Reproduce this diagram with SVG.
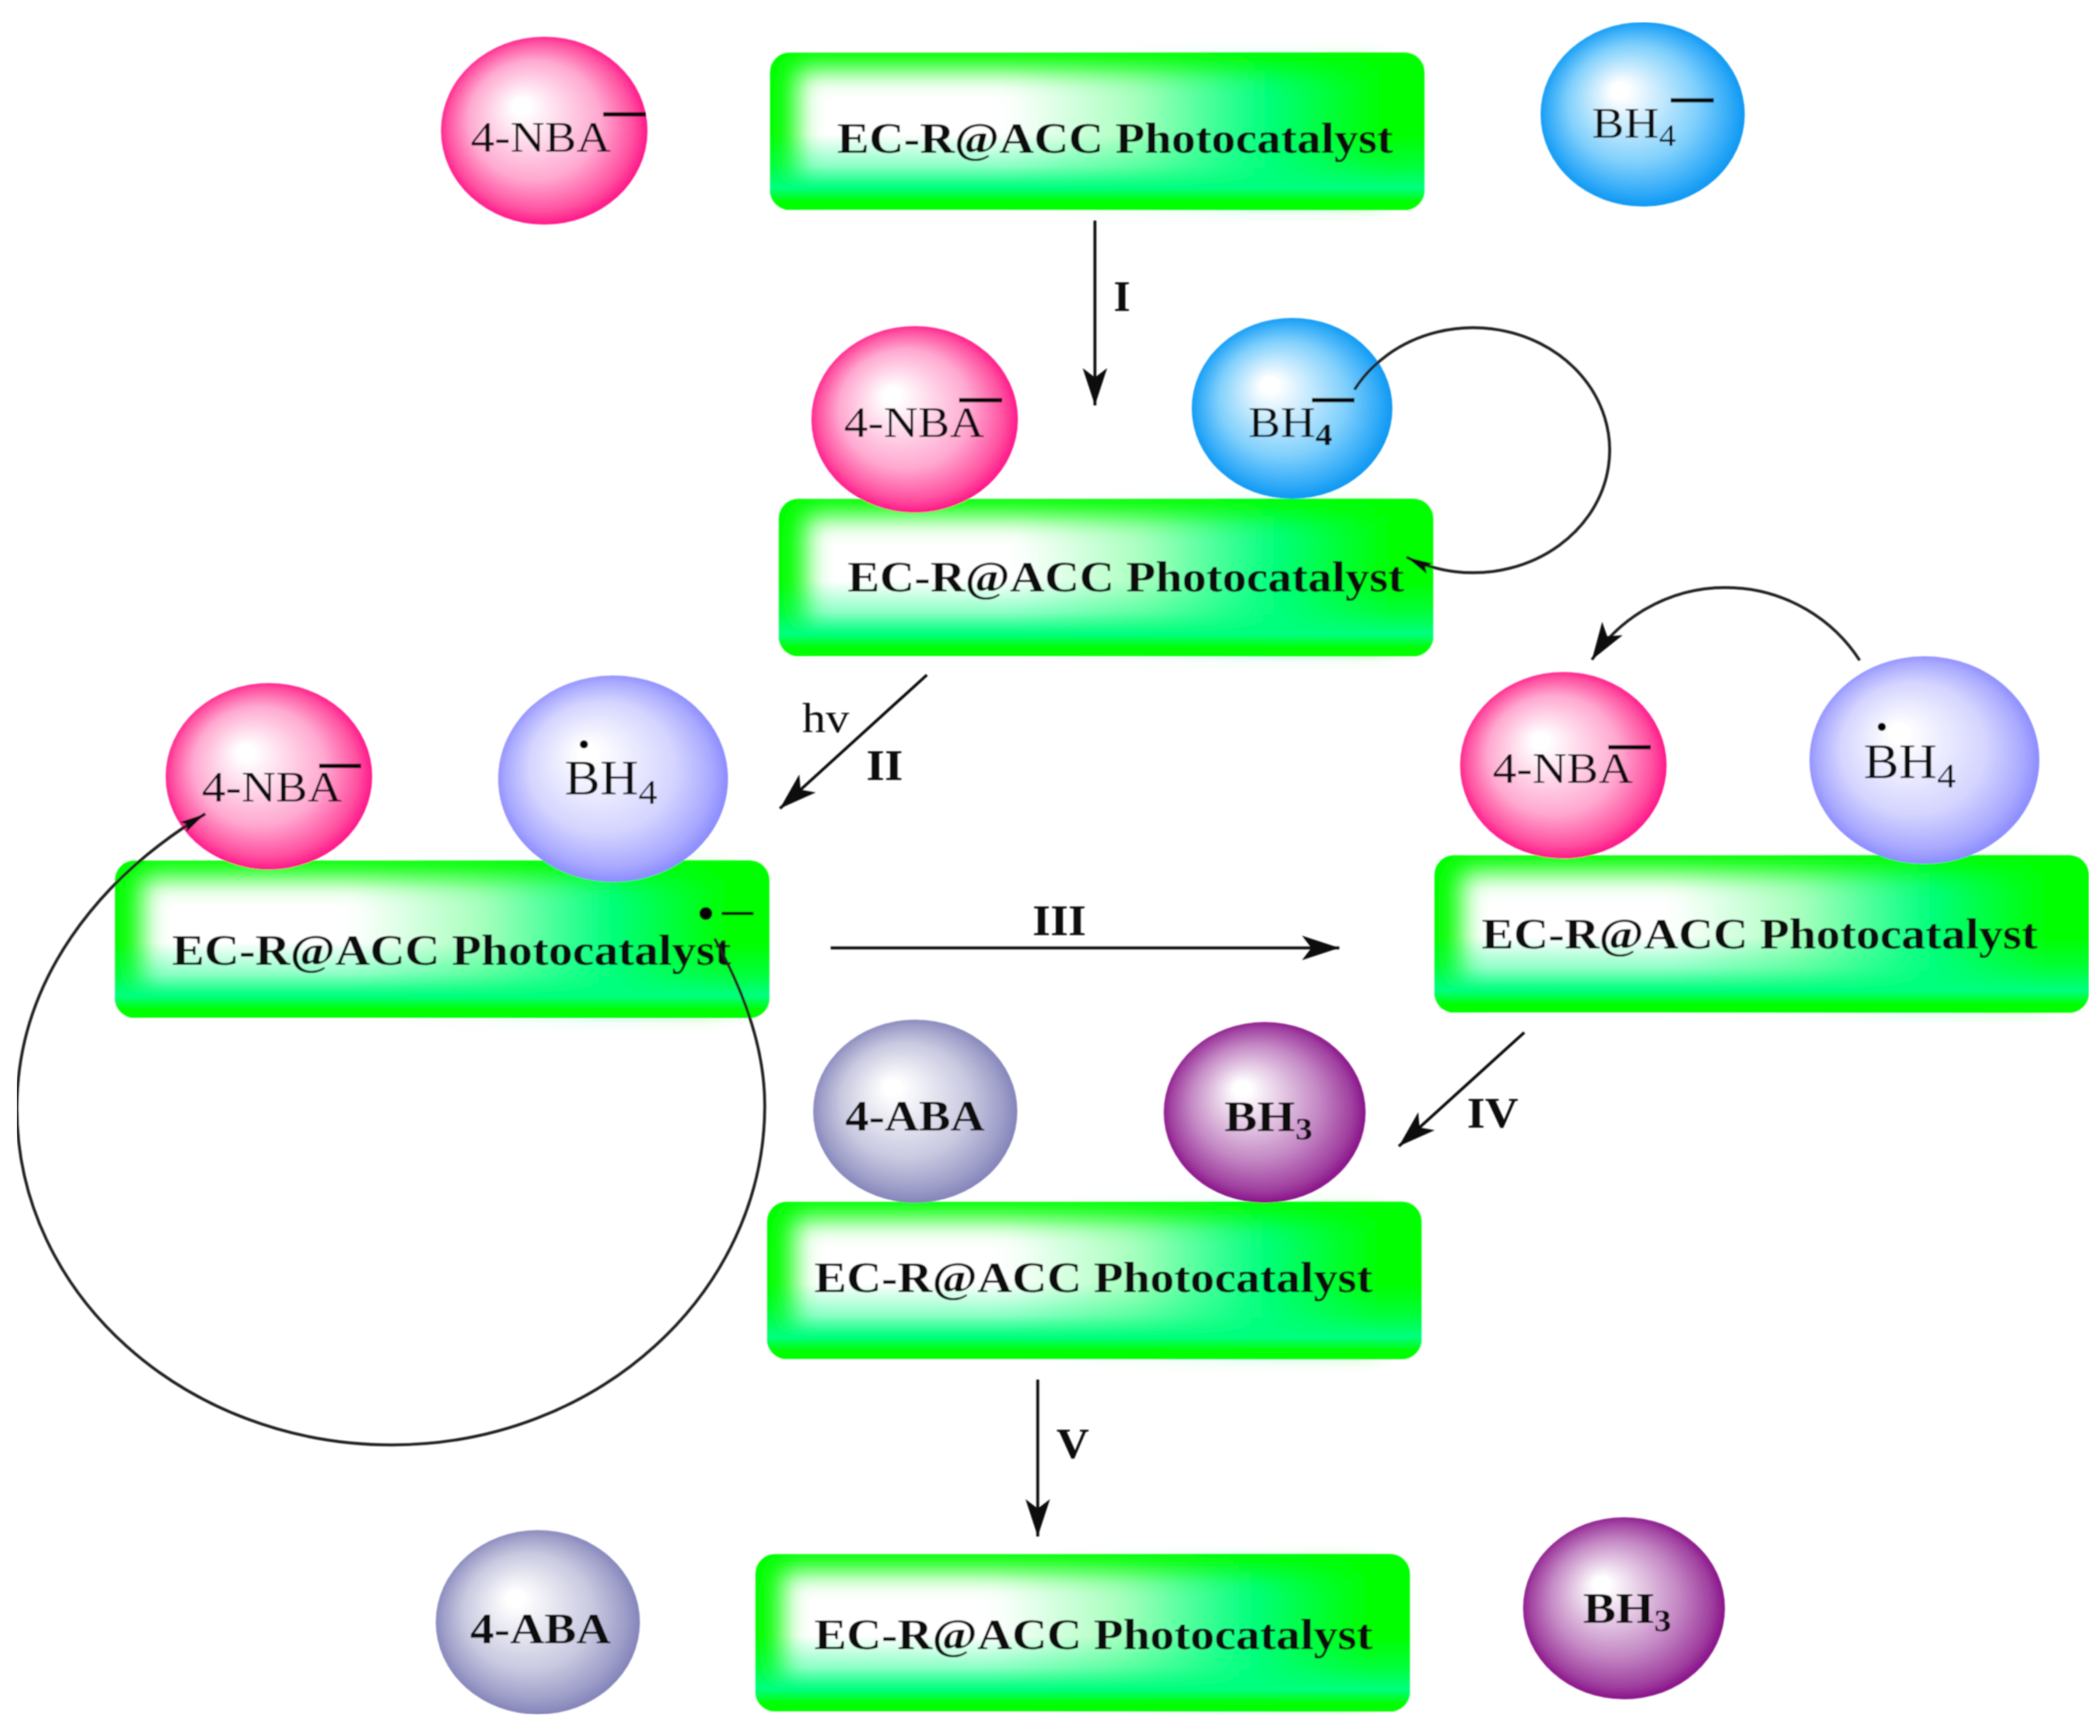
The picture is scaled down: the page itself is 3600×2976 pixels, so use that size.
<svg xmlns="http://www.w3.org/2000/svg" xmlns:xlink="http://www.w3.org/1999/xlink" width="3600" height="2976" viewBox="0 0 3600 2976">
<style>
text{font-family:"Liberation Serif","Times New Roman",serif;fill:#111}
.cat{font-size:74px;font-weight:bold}
.r{font-size:74px}
.big{font-size:84px}
.b{font-size:74px;font-weight:bold}
.lab{font-size:74px;font-weight:bold}
.hv{font-size:72px}
.bar{stroke:#000;stroke-width:7;fill:none}
.ln{stroke:#111;stroke-width:5;fill:none;marker-end:url(#ah)}
.cv{stroke:#222;stroke-width:5;fill:none;marker-end:url(#ah)}
.cs{stroke:#222;stroke-width:5;fill:none;marker-end:url(#ahs)}
</style>
<defs>
<linearGradient id="gh" x1="0" x2="1" y1="0" y2="0"><stop offset="0" stop-color="#fff"/><stop offset="0.36" stop-color="#fff"/><stop offset="0.58" stop-color="#a8ffbe"/><stop offset="0.8" stop-color="#00ff80"/><stop offset="1" stop-color="#00ff00"/></linearGradient>
<linearGradient id="gv" x1="0" x2="0" y1="0" y2="1"><stop offset="0.52" stop-color="#00ff80" stop-opacity="0"/><stop offset="0.72" stop-color="#00ff80" stop-opacity="0.45"/><stop offset="0.86" stop-color="#00ff80" stop-opacity="1"/><stop offset="0.95" stop-color="#00ff00"/></linearGradient>
<filter id="bl" x="-10%" y="-30%" width="120%" height="160%"><feGaussianBlur stdDeviation="22"/></filter>
<filter id="soft" x="0" y="0" width="100%" height="100%"><feGaussianBlur stdDeviation="1.1"/></filter>
<radialGradient id="pk" cx="0.5" cy="0.5" r="0.53" fx="0.38" fy="0.36"><stop offset="0.08" stop-color="#fff"/><stop offset="0.6" stop-color="#ffa8d0"/><stop offset="0.85" stop-color="#ff50a0"/><stop offset="1" stop-color="#ff0080"/></radialGradient>
<radialGradient id="bu" cx="0.5" cy="0.5" r="0.53" fx="0.38" fy="0.36"><stop offset="0.08" stop-color="#fff"/><stop offset="0.6" stop-color="#80d0fc"/><stop offset="0.85" stop-color="#30aaf8"/><stop offset="1" stop-color="#0090f0"/></radialGradient>
<radialGradient id="lv" cx="0.5" cy="0.5" r="0.53" fx="0.38" fy="0.36"><stop offset="0.08" stop-color="#fff"/><stop offset="0.6" stop-color="#d4d4ff"/><stop offset="0.85" stop-color="#a8a8ff"/><stop offset="1" stop-color="#8080ff"/></radialGradient>
<radialGradient id="sl" cx="0.5" cy="0.5" r="0.53" fx="0.38" fy="0.36"><stop offset="0.08" stop-color="#fff"/><stop offset="0.6" stop-color="#c8c8e0"/><stop offset="0.85" stop-color="#9c9cc8"/><stop offset="1" stop-color="#7a7ab4"/></radialGradient>
<radialGradient id="pu" cx="0.5" cy="0.5" r="0.53" fx="0.38" fy="0.36"><stop offset="0.08" stop-color="#fff"/><stop offset="0.6" stop-color="#c488c4"/><stop offset="0.85" stop-color="#a040a0"/><stop offset="1" stop-color="#800080"/></radialGradient>
<marker id="ah" markerUnits="userSpaceOnUse" markerWidth="70" markerHeight="50" viewBox="0 -25 70 50" refX="64" refY="0" orient="auto"><path d="M64,0 L0,-21 L16,0 L0,21 z" fill="#111"/></marker>
<marker id="ahs" markerUnits="userSpaceOnUse" markerWidth="50" markerHeight="30" viewBox="0 -15 50 30" refX="44" refY="0" orient="auto"><path d="M44,0 L0,-10 L8,0 L0,10 z" fill="#111"/></marker>
<g id="plate">
<rect width="1122" height="270" rx="34" fill="#00ff00"/>
<rect x="46" y="30" width="1000" height="215" fill="url(#gh)" filter="url(#bl)"/>
<rect width="1122" height="270" rx="34" fill="url(#gv)"/>
</g>
</defs>
<rect width="3600" height="2976" fill="#fff"/>
<g filter="url(#soft)">
<g id="nodes">
<g id="top-row">
<g id="node-4nba-1"><ellipse cx="933" cy="224" rx="177" ry="161" fill="url(#pk)"/><text class="r" x="807" y="260" textLength="240" lengthAdjust="spacingAndGlyphs">4-NBA</text><path class="bar" d="M1034 196H1107"/></g>
<g id="node-cat-1"><use xlink:href="#plate" href="#plate" x="1320" y="90"/><text class="cat" x="1435" y="262" textLength="953" lengthAdjust="spacingAndGlyphs">EC-R@ACC Photocatalyst</text></g>
<g id="node-bh4-1"><ellipse cx="2816" cy="196" rx="175" ry="158" fill="url(#bu)"/><text class="r" x="2729" y="236" textLength="144" lengthAdjust="spacingAndGlyphs">BH<tspan font-size="52" dy="14">4</tspan></text><path class="bar" d="M2864 172H2938"/></g>
</g>
<g id="node-cat-2"><use xlink:href="#plate" href="#plate" x="1335" y="855"/><text class="cat" x="1453" y="1014" textLength="954" lengthAdjust="spacingAndGlyphs">EC-R@ACC Photocatalyst</text></g>
<g id="node-4nba-2"><ellipse cx="1568" cy="719" rx="177" ry="160" fill="url(#pk)"/><text class="r" x="1447" y="749" textLength="240" lengthAdjust="spacingAndGlyphs">4-NBA</text><path class="bar" d="M1644 686H1718"/></g>
<g id="node-bh4-2"><ellipse cx="2215" cy="700" rx="172" ry="155" fill="url(#bu)"/><text class="r" x="2140" y="749" textLength="144" lengthAdjust="spacingAndGlyphs">BH<tspan font-size="52" dy="14" font-weight="bold">4</tspan></text><path class="bar" d="M2249 686H2322"/></g>
<g id="node-cat-3"><use xlink:href="#plate" href="#plate" x="197" y="1475"/><text class="cat" x="295" y="1654" textLength="958" lengthAdjust="spacingAndGlyphs">EC-R@ACC Photocatalyst</text><circle cx="1210" cy="1566" r="11" fill="#000"/><path d="M1237 1566H1292" stroke="#000" stroke-width="5"/></g>
<g id="node-4nba-3"><ellipse cx="461" cy="1331" rx="177" ry="160" fill="url(#pk)"/><text class="r" x="346" y="1374" textLength="240" lengthAdjust="spacingAndGlyphs">4-NBA</text><path class="bar" d="M547 1313H619"/></g>
<g id="node-bh4r-3"><ellipse cx="1051" cy="1335" rx="197" ry="177" fill="url(#lv)"/><circle cx="1001" cy="1276" r="7" fill="#000"/><text class="big" x="968" y="1362" textLength="159" lengthAdjust="spacingAndGlyphs">BH<tspan font-size="60" dy="16">4</tspan></text></g>
<g id="node-cat-4"><use xlink:href="#plate" href="#plate" x="2459" y="1466"/><text class="cat" x="2540" y="1626" textLength="953" lengthAdjust="spacingAndGlyphs">EC-R@ACC Photocatalyst</text></g>
<g id="node-4nba-4"><ellipse cx="2680" cy="1312" rx="177" ry="160" fill="url(#pk)"/><text class="r" x="2559" y="1342" textLength="240" lengthAdjust="spacingAndGlyphs">4-NBA</text><path class="bar" d="M2757 1281H2830"/></g>
<g id="node-bh4r-4"><ellipse cx="3299" cy="1303" rx="197" ry="178" fill="url(#lv)"/><circle cx="3226" cy="1246" r="7" fill="#000"/><text class="big" x="3195" y="1334" textLength="158" lengthAdjust="spacingAndGlyphs">BH<tspan font-size="60" dy="16">4</tspan></text></g>
<g id="node-cat-5"><use xlink:href="#plate" href="#plate" x="1315" y="2060"/><text class="cat" x="1396" y="2215" textLength="957" lengthAdjust="spacingAndGlyphs">EC-R@ACC Photocatalyst</text></g>
<g id="node-4aba-5"><ellipse cx="1569" cy="1905" rx="175" ry="157" fill="url(#sl)"/><text class="b" x="1449" y="1938" textLength="239" lengthAdjust="spacingAndGlyphs">4-ABA</text></g>
<g id="node-bh3-5"><ellipse cx="2168" cy="1907" rx="173" ry="155" fill="url(#pu)"/><text class="b" x="2099" y="1939" textLength="151" lengthAdjust="spacingAndGlyphs">BH<tspan font-size="52" dy="14">3</tspan></text></g>
<g id="node-cat-6"><use xlink:href="#plate" href="#plate" x="1295" y="2664"/><text class="cat" x="1396" y="2827" textLength="957" lengthAdjust="spacingAndGlyphs">EC-R@ACC Photocatalyst</text></g>
<g id="node-4aba-6"><ellipse cx="922" cy="2781" rx="175" ry="158" fill="url(#sl)"/><text class="b" x="806" y="2817" textLength="241" lengthAdjust="spacingAndGlyphs">4-ABA</text></g>
<g id="node-bh3-6"><ellipse cx="2784" cy="2757" rx="173" ry="156" fill="url(#pu)"/><text class="b" x="2714" y="2782" textLength="151" lengthAdjust="spacingAndGlyphs">BH<tspan font-size="52" dy="14">3</tspan></text></g>
</g>
<g id="connectors">
<path class="ln" d="M1877 378V695"/>
<path class="ln" d="M1589 1157L1337 1386"/>
<path class="ln" d="M1424 1625H2296"/>
<path class="ln" d="M2613 1770L2398 1965"/>
<path class="ln" d="M1779 2365V2634"/>
<path class="cs" d="M2322 668A234 210 0 1 1 2411 955"/>
<path class="cv" d="M3188 1132A274 274 0 0 0 2729 1131"/>
<path class="cs" d="M1225 1609C1270 1690 1311 1790 1311 1895C1311 2216 1025 2477 672 2477C317 2477 29 2219 29 1900C29 1680 170 1505 352 1395"/>
</g>
<g id="labels">
<text class="lab" x="1909" y="533">I</text>
<text class="hv" x="1375" y="1255" textLength="81" lengthAdjust="spacingAndGlyphs">hv</text>
<text class="lab" x="1485" y="1337" textLength="63" lengthAdjust="spacingAndGlyphs">II</text>
<text class="lab" x="1770" y="1603" textLength="92" lengthAdjust="spacingAndGlyphs">III</text>
<text class="lab" x="2515" y="1933" textLength="88" lengthAdjust="spacingAndGlyphs">IV</text>
<text class="lab" x="1811" y="2500" textLength="56" lengthAdjust="spacingAndGlyphs">V</text>
</g>
</g>
</svg>
